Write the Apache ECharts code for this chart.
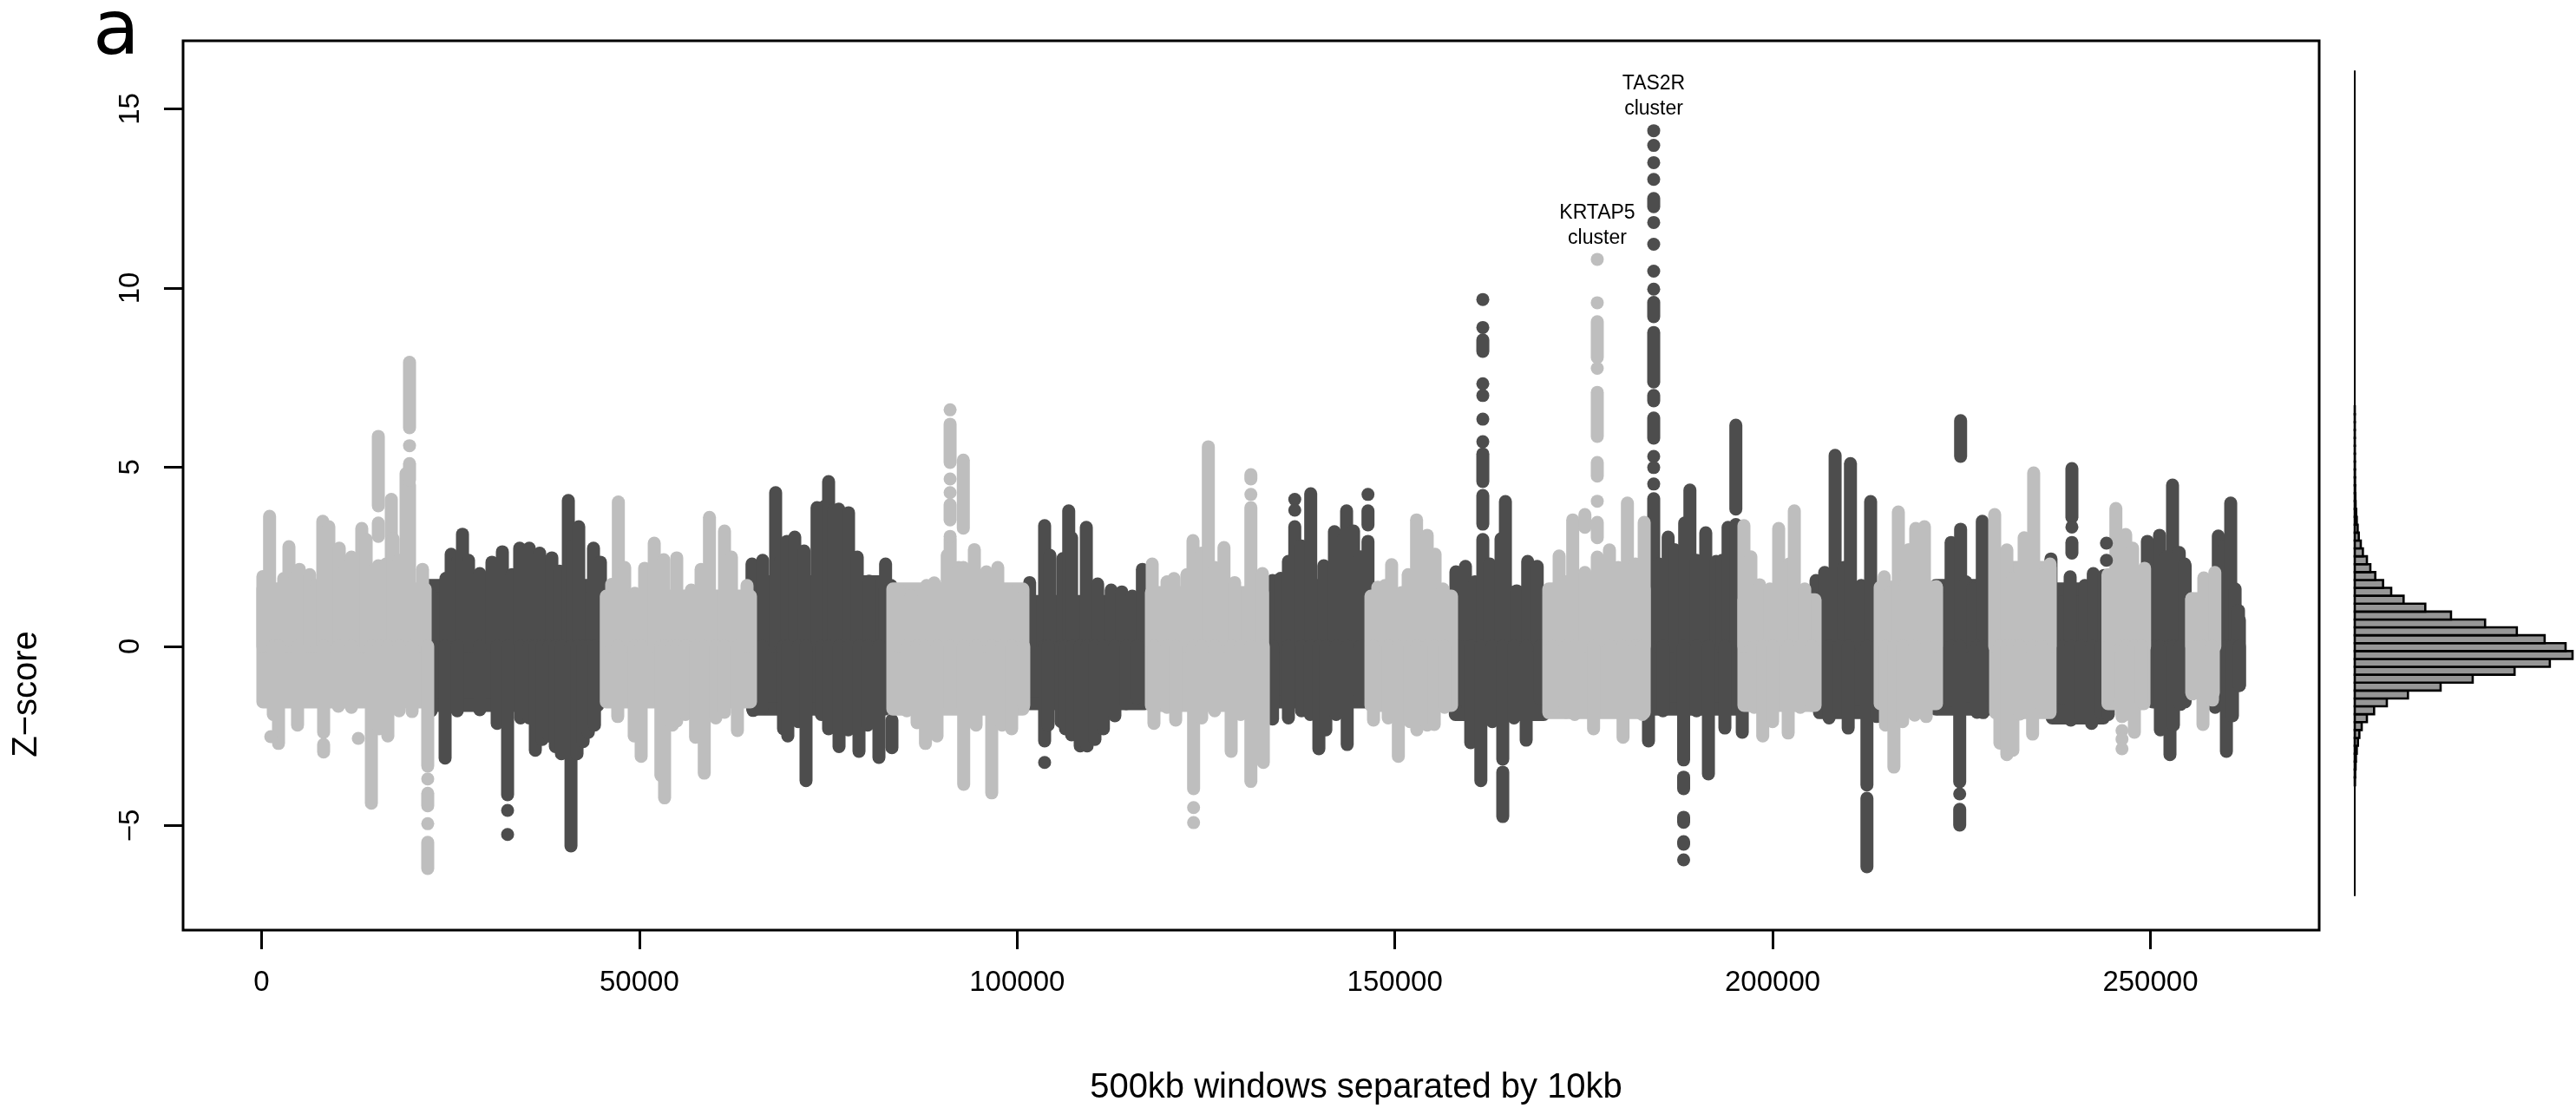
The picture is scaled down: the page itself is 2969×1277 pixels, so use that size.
<!DOCTYPE html>
<html>
<head>
<meta charset="utf-8">
<title>Z-score windows</title>
<script src="https://cdn.jsdelivr.net/npm/echarts@6/dist/echarts.min.js"></script>
<style>
html, body { margin: 0; padding: 0; background: #fff; }
#main { width: 2969px; height: 1277px; }
</style>
</head>
<body>
<div id="main"></div>
<script>
var xTicks = [0, 50000, 100000, 150000, 200000, 250000];
var yTicks = [-5, 0, 5, 10, 15];

// solid part of each chromosome: [from, to, zLow, zHigh]
var lightBands = [
  [170, 21650, -1.55, 1.6], [45620, 64710, -1.55, 1.4], [83550, 100770, -1.75, 1.6],
  [117770, 132470, -1.65, 1.5], [146830, 157500, -1.65, 1.4], [170370, 183000, -1.85, 1.6],
  [196200, 205620, -1.65, 1.3], [214230, 221690, -1.6, 1.65], [229510, 236720, -1.85, 2.2],
  [244380, 249150, -1.6, 2], [255470, 258330, -1.3, 1.33]
];
var darkBands = [
  [22000, 44500, -1.65, 1.7], [65000, 82500, -1.75, 1.8], [100800, 116900, -1.6, 1.25],
  [132500, 146300, -1.55, 1.7], [158000, 169700, -1.9, 1.5], [183800, 195400, -1.75, 1.9],
  [206200, 213600, -1.85, 1.6], [221600, 228500, -1.75, 1.7], [237000, 243800, -2, 1.6],
  [250300, 254600, -1.55, 2.25], [255000, 261780, -1.09, 0.73]
];

// columns of windows going up / down from the body: [window, z]
var lightTops = [
  [170, 1.95], [520, 1.95], [1057, 3.63], [2930, 1.89], [3620, 2.78], [4420, 1.9], [5000, 2.15], [6370, 2],
  [7290, 1.7], [8100, 3.49], [8900, 3.34], [10280, 2.74], [11080, 2.2], [11890, 2.49], [13260, 3.29],
  [13840, 2.98], [14640, 2.1], [15450, 2.25], [16480, 2.3], [17170, 4.1], [17400, 3], [18200, 2.4],
  [19120, 4.82], [19580, 4.5], [21300, 2.15],
  [46340, 1.73], [47220, 4.03], [48060, 2.2], [49400, 1.48], [50700, 2.18], [51970, 2.88], [53230, 2.42],
  [54950, 2.47], [56870, 1.57], [58170, 2.15], [59280, 3.6], [61270, 3.22], [62190, 2.49], [64250, 1.7],
  [84430, 1.57], [85960, 1.4], [88020, 1.7], [89030, 1.77], [90750, 2.54], [91140, 3], [92270, 2.2],
  [92880, 2.2], [94340, 2.7], [95940, 2.08], [97440, 2.2], [98780, 1.57], [100540, 1.35],
  [117880, 2.3], [119840, 1.8], [120760, 1.89], [122470, 2], [123280, 2.95], [124430, 2.6], [125310, 5.57],
  [126150, 2.2], [127380, 2.76], [128790, 1.78], [130940, 3.87], [132470, 2.03],
  [147740, 1.65], [148700, 1.7], [149570, 2.28], [150880, 1.5], [151760, 2], [152870, 3.53], [154280, 3.1],
  [155320, 2.57], [156360, 1.6],
  [170560, 1.48], [171740, 2.52], [172650, 1.8], [173540, 3.53], [175150, 2.06], [176790, 2.49], [178400, 2.69],
  [179550, 2.2], [180780, 4], [181850, 2.3], [183000, 3.46],
  [196200, 3.37], [197120, 2.5], [198270, 1.72], [199640, 1.6], [200800, 3.29], [202180, 2.3], [202870, 3.78], [204250, 1.6],
  [214770, 1.94], [215500, 1.5], [216640, 3.75], [217560, 1.7], [218020, 2.7], [218940, 3.29], [220090, 3.34], [221660, 1.67],
  [229390, 3.68], [231000, 2.69], [231800, 1.9], [233290, 3.03], [234550, 4.84], [235570, 2], [236720, 2.3],
  [244430, 1.5], [245430, 3.85], [246730, 3.12], [247650, 2.74], [249230, 2.18],
  [255470, 1.33], [257070, 1.91], [258530, 2.06]
];
var lightBottoms = [
  [1550, -1.9], [2240, -2.71], [4760, -2.2], [8210, -2.4], [10160, -1.67], [11890, -1.7], [14530, -4.38],
  [15560, -2.3], [16710, -2.5], [18200, -1.8], [19920, -1.82], [21990, -3.34],
  [47140, -1.96], [49320, -2.5], [50240, -3.07], [52850, -3.6], [53340, -4.23], [54370, -2.2], [54950, -2.08],
  [56100, -1.9], [57440, -2.54], [58590, -3.54], [60120, -2], [61270, -1.84], [62980, -2.35],
  [85400, -1.8], [86760, -2.13], [87870, -2.71], [89400, -2.5], [91130, -1.7], [92930, -3.85], [94570, -2.2],
  [96640, -4.09], [98010, -2.2], [99280, -2.3], [100880, -1.65],
  [118110, -2.15], [119840, -1.7], [120990, -2.06], [123360, -3.97], [124430, -2], [126150, -1.8], [128330, -2.93],
  [129590, -1.9], [130940, -3.77], [132590, -3.24],
  [147170, -2.06], [149120, -2], [150460, -3.07], [152000, -2.1], [152910, -2.33], [154280, -2.2], [155210, -2.18], [156590, -1.7],
  [170900, -1.65], [172650, -1.84], [173800, -1.9], [176300, -2.3], [178600, -1.7], [180200, -2.54], [181850, -1.8], [182760, -1.9],
  [197560, -1.7], [198690, -2.5], [199990, -2.1], [202060, -2.42], [203660, -1.7], [205160, -1.65],
  [214930, -2.2], [216050, -3.37], [217200, -2.1], [218800, -1.92], [220330, -1.96],
  [230080, -2.7], [231000, -3.02], [231800, -2.9], [232720, -1.89], [234410, -2.45], [235570, -1.7],
  [244430, -1.45], [246240, -1.96], [246730, -1.9], [247880, -2.4], [248800, -1.55],
  [255550, -1.33], [256960, -2.18], [258220, -1.5]
];
var darkTops = [
  [22450, 1.4], [24400, 1.9], [25090, 2.57], [26010, 2.4], [26590, 3.13], [27390, 2.4], [28880, 2.03], [30490, 2.35],
  [31870, 2.64], [33130, 2], [34160, 2.74], [35430, 2.74], [36810, 2.6], [38420, 2.47], [39450, 2.1], [40600, 4.07],
  [41170, 2.8], [41980, 3.34], [43930, 2.74], [44850, 2.35],
  [64910, 2.3], [66320, 2.4], [68040, 4.29], [68730, 2.4], [69530, 2.93], [70570, 3.05], [71800, 2.66], [73520, 3.87],
  [74480, 3.9], [75050, 4.6], [75740, 3.8], [76390, 3.83], [77690, 3.73], [78840, 2.49], [80410, 1.82], [82590, 2.3], [83320, 1.7],
  [101660, 1.78], [103640, 3.37], [104340, 2.54], [106060, 2.45], [106830, 3.78], [107210, 3.03], [109160, 3.32],
  [110660, 1.74], [112450, 1.57], [113860, 1.52], [115240, 1.4], [116580, 2.15],
  [133810, 1.84], [134880, 1.9], [135910, 2.37], [136750, 3.34], [137640, 2.8], [138860, 4.26], [140590, 2.25], [142000, 3.2],
  [143200, 3], [143610, 3.78], [144530, 3.22], [145450, 2.5], [146440, 2.93],
  [158080, 2.08], [159340, 2.23], [160600, 1.8], [161640, 2.98], [162560, 2.3], [164050, 3], [164630, 4.04], [166120, 1.55],
  [167580, 2.37], [168840, 2.23],
  [184260, 4.12], [184950, 2.3], [186170, 3.05], [187010, 2.7], [188360, 3.44], [189050, 4.36], [189930, 2.4], [191150, 3.17],
  [192530, 2.37], [193330, 2.4], [194100, 3.32], [195130, 3.4],
  [205740, 1.84], [206890, 2.06], [208270, 5.33], [209430, 2.2], [210300, 5.1], [211730, 1.7], [212970, 4.04],
  [223620, 2.9], [224880, 3.27], [225570, 1.8], [226490, 1.6], [227750, 3.49],
  [236840, 2.44], [239380, 1.94], [241330, 1.7], [242440, 2.03], [243860, 1.98],
  [249600, 2.93], [251210, 3.1], [252120, 2.5], [252930, 4.5], [253820, 2.62], [254540, 2.3],
  [258990, 3.08], [259940, 2.8], [260630, 4], [261210, 1.6], [261660, 1]
];
var darkBottoms = [
  [22450, -1.8], [24290, -3.12], [25900, -1.8], [28880, -1.77], [31180, -2.15], [32560, -4.14], [34280, -2], [35430, -2],
  [36230, -2.9], [37150, -2.6], [38070, -2.5], [38880, -2.8], [39680, -3], [40950, -5.57], [41750, -3], [42560, -2.66],
  [43250, -2.4], [44060, -2.2],
  [65060, -1.79], [66210, -1.72], [69080, -2.3], [69650, -2.5], [71030, -2.1], [72060, -3.75], [74090, -1.9], [75050, -2.3],
  [76430, -2.8], [77650, -2.33], [79070, -2.93], [80220, -2.2], [81710, -3.1],
  [103640, -2.64], [104100, -2.2], [105820, -2.1], [106400, -2.3], [107210, -2.47], [108350, -2.78], [109270, -2.78],
  [110300, -2.6], [111420, -2.3], [112940, -1.94], [114440, -1.6], [115820, -1.43],
  [133810, -2.03], [135910, -2], [137640, -1.8], [138790, -1.9], [139940, -2.86], [140860, -2.33], [142230, -1.9],
  [143690, -2.74], [145450, -1.5],
  [158510, -1.48], [160040, -2.69], [161380, -3.75], [162900, -2.1], [164280, -3.15], [165770, -2], [167380, -2.62], [169220, -1.45],
  [183570, -2.64], [185480, -1.8], [188220, -3.17], [189930, -1.8], [191500, -3.56], [193680, -2.28], [195980, -2.4],
  [207470, -2], [208810, -1.8], [210000, -2.28], [212480, -3.87], [213780, -1.96],
  [221800, -1.74], [223620, -1.5], [224760, -3.78], [227060, -1.84], [227870, -1.85], [229130, -1.5],
  [238350, -1.45], [239470, -2.06], [240770, -1.94], [242220, -2.15], [243480, -1.84], [244430, -1.9],
  [250520, -1.5], [251320, -2.33], [252590, -3.02], [253050, -2.2], [253970, -1.62],
  [258570, -1.7], [260060, -2.93], [260860, -1.94], [261780, -1.09]
];

// detached runs: [window, zLow, zHigh]
var lightRuns = [
  [15450, 3.92, 5.86], [15450, 3.07, 3.44], [19580, 6.1, 7.93], [19580, 4.65, 5.1], [8210, -2.95, -2.74],
  [21990, -4.45, -4.1], [21990, -6.2, -5.47],
  [91130, 5.13, 6.2], [91130, 3.53, 3.95], [92880, 3.3, 5.2], [130940, 4.67, 4.79], [175150, 3.32, 3.68],
  [176790, 8.06, 9.06], [176790, 5.86, 7.09], [176790, 4.75, 5.13], [176790, 3.03, 3.46]
];
var darkRuns = [
  [83430, -2.83, -2.06], [146440, 3.39, 3.78], [161640, 8.23, 8.55], [161640, 4.6, 5.37], [161640, 3.41, 4.21],
  [164280, -4.75, -3.51], [184260, 12.27, 12.5], [184260, 9.2, 9.6], [184260, 7.38, 8.76], [184260, 6.85, 7],
  [184260, 5.81, 6.37], [195130, 3.83, 6.17], [188220, -3.97, -3.65], [188220, -4.91, -4.77], [188220, -5.52, -5.45],
  [212480, -6.15, -4.24], [224880, 5.3, 6.3], [224760, -4.99, -4.55], [239610, 3.6, 4.96], [239610, 2.6, 2.9]
];

// single windows: [window, z]
var lightDots = [
  [19580, 5.6], [1210, -2.52], [12800, -2.57], [21990, -3.7], [21990, -4.95], [91130, 6.6], [91130, 4.67], [91130, 4.29],
  [91130, 3.07], [130940, 4.24], [123360, -4.5], [123360, -4.92], [176790, 10.8], [176790, 9.59], [176790, 7.76],
  [176790, 4.05], [246240, -2.35], [246240, -2.59], [246240, -2.86]
];
var darkDots = [
  [32560, -4.58], [32560, -5.25], [103640, -3.24], [136750, 4.1], [136750, 3.8], [146440, 4.24], [161640, 9.68],
  [161640, 8.9], [161640, 7.33], [161640, 7], [161640, 6.34], [161640, 5.71], [184260, 14.39], [184260, 13.98],
  [184260, 13.5], [184260, 13.03], [184260, 11.83], [184260, 11.22], [184260, 10.47], [184260, 9.97], [184260, 5.3],
  [184260, 4.99], [184260, 4.53], [188220, -5.96], [224760, -4.12], [239610, 3.33], [244180, 2.88], [244180, 2.4]
];

// histogram on the right: lower edge of each 0.2 wide bin, and its count
var histLow = [-3.6, -3.4, -3.2, -3, -2.8, -2.6, -2.4, -2.2, -2, -1.8, -1.6, -1.4, -1.2, -1, -0.8, -0.6, -0.4, -0.2, 0, 0.2, 0.4, 0.6, 0.8, 1, 1.2, 1.4, 1.6, 1.8, 2, 2.2, 2.4, 2.6, 2.8, 3, 3.2, 3.4, 3.6, 3.8, 4, 4.2, 4.4, 4.6, 4.8, 5, 5.2, 5.4, 5.6, 5.8];
var histCount = [30, 50, 100, 140, 240, 380, 550, 830, 1450, 2310, 3830, 6350, 10250, 14080, 19080, 23290, 26000, 25170, 22670, 19350, 15560, 11490, 8420, 5830, 4350, 3380, 2450, 1860, 1450, 970, 720, 480, 350, 240, 170, 100, 70, 50, 35, 25, 20, 15, 12, 10, 8, 6, 5, 4];

var clusterNames = ['TAS2R\ncluster', 'KRTAP5\ncluster'];
var clusterX = [184260, 176790];
var clusterZ = [15.35, 11.75];

var LIGHT = '#bebebe';
var DARK = '#4d4d4d';
var DOT_SIZE = 15;

function drawBand(params, api) {
  var a = api.coord([api.value(0), api.value(3)]);
  var b = api.coord([api.value(1), api.value(2)]);
  return {
    type: 'rect',
    shape: { x: a[0], y: a[1], width: b[0] - a[0], height: b[1] - a[1] },
    style: { fill: api.visual('color'), stroke: api.visual('color'), lineWidth: DOT_SIZE, lineJoin: 'round' }
  };
}

function drawRun(params, api) {
  var a = api.coord([api.value(0), api.value(1)]);
  var b = api.coord([api.value(0), api.value(2)]);
  return {
    type: 'line',
    shape: { x1: a[0], y1: a[1], x2: b[0], y2: b[1] },
    style: { stroke: api.visual('color'), lineWidth: DOT_SIZE, lineCap: 'round', fill: null }
  };
}

function drawHistBar(params, api) {
  var a = api.coord([0, api.value(1) + 0.2]);
  var b = api.coord([api.value(0), api.value(1)]);
  return {
    type: 'rect',
    shape: { x: a[0], y: a[1], width: b[0] - a[0], height: b[1] - a[1] },
    style: { fill: '#969696', stroke: '#000', lineWidth: 2.6 }
  };
}

// one colour: body, then columns, then lone dots
function colourSeries(color, bands, tops, bottoms, runs, dots) {
  var cols = [];
  tops.forEach(function (d) { cols.push([d[0], 0, d[1]]); });
  bottoms.forEach(function (d) { cols.push([d[0], d[1], 0]); });
  runs.forEach(function (d) { cols.push(d); });
  return [
    { type: 'custom', renderItem: drawBand, data: bands, itemStyle: { color: color }, encode: { x: [0, 1], y: [2, 3] }, silent: true },
    { type: 'custom', renderItem: drawRun, data: cols, itemStyle: { color: color }, encode: { x: 0, y: [1, 2] }, silent: true },
    { type: 'scatter', data: dots, symbolSize: DOT_SIZE, itemStyle: { color: color, opacity: 1 }, silent: true }
  ];
}

var labelStyle = { fontFamily: 'Liberation Sans', fontSize: 33, color: '#000' };
var tickLine = { length: 22, lineStyle: { color: '#000', width: 3 } };

var myChart = echarts.init(document.getElementById('main'), null, { renderer: 'canvas' });
myChart.setOption({
  backgroundColor: '#fff',
  animation: false,
  grid: [
    { left: 211, top: 47, width: 2462, height: 1025, show: true, borderColor: '#000', borderWidth: 3, backgroundColor: 'transparent' },
    { left: 2714, top: 82, width: 251, height: 950 }
  ],
  xAxis: [{
    type: 'value', gridIndex: 0, min: -10393, max: 272340,
    axisLine: { show: false, onZero: false }, splitLine: { show: false },
    axisTick: Object.assign({ show: true, customValues: xTicks }, tickLine),
    axisLabel: Object.assign({
      show: true, customValues: xTicks, margin: 44,
      formatter: function (v) { return String(v); }
    }, labelStyle)
  }, {
    type: 'value', gridIndex: 1, min: 0, max: 26000, show: false
  }],
  yAxis: [{
    type: 'value', gridIndex: 0, min: -7.92, max: 16.9,
    axisLine: { show: false, onZero: false }, splitLine: { show: false },
    axisTick: Object.assign({ show: true, customValues: yTicks }, tickLine),
    axisLabel: Object.assign({
      show: true, customValues: yTicks, rotate: 90, margin: 44,
      formatter: function (v) { return String(v).replace('-', '\u2212'); }
    }, labelStyle)
  }, {
    type: 'value', gridIndex: 1, min: -6.39, max: 14.49,
    splitLine: { show: false }, axisTick: { show: false }, axisLabel: { show: false },
    axisLine: { show: true, onZero: false, lineStyle: { color: '#000', width: 2 } }
  }],
  series: colourSeries(DARK, darkBands, darkTops, darkBottoms, darkRuns, darkDots)
    .concat(colourSeries(LIGHT, lightBands, lightTops, lightBottoms, lightRuns, lightDots))
    .concat([{
      type: 'scatter',
      symbolSize: 0,
      silent: true,
      data: clusterX.map(function (x, i) { return { value: [x, clusterZ[i]], name: clusterNames[i] }; }),
      label: {
        show: true, position: 'inside', formatter: '{b}', align: 'center', verticalAlign: 'middle',
        fontFamily: 'Liberation Sans', fontSize: 23, lineHeight: 29, color: '#000', opacity: 1
      },
      itemStyle: { opacity: 1 }
    }, {
      type: 'custom',
      xAxisIndex: 1,
      yAxisIndex: 1,
      renderItem: drawHistBar,
      silent: true,
      encode: { x: 0, y: 1 },
      data: histCount.map(function (c, i) { return [c, histLow[i]]; })
    }]),
  graphic: [
    { type: 'text', left: 107, top: -5, style: { text: 'a', fontFamily: 'DejaVu Sans', fontSize: 88, fill: '#000' } },
    { type: 'text', x: 31, y: 800, rotation: Math.PI / 2, style: { text: 'Z\u2212score', fontFamily: 'Liberation Sans', fontSize: 40, fill: '#000', align: 'center', verticalAlign: 'middle' } },
    { type: 'text', x: 1563, y: 1254, style: { text: '500kb windows separated by 10kb', fontFamily: 'Liberation Sans', fontSize: 40, fill: '#000', align: 'center', verticalAlign: 'middle' } }
  ]
});
</script>
</body>
</html>
